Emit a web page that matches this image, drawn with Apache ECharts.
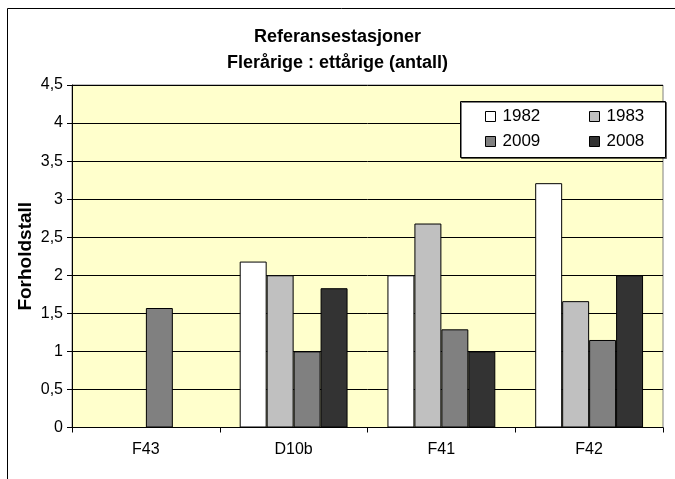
<!DOCTYPE html>
<html>
<head>
<meta charset="utf-8">
<script src="https://cdn.jsdelivr.net/npm/echarts@6/dist/echarts.min.js"></script>
<style>
  html, body { margin: 0; padding: 0; background: #ffffff; }
  #chart { width: 675px; height: 479px; }
</style>
</head>
<body>
<div id="chart"></div>
<script>
// Stations on the x axis
const categories = ['F43', 'D10b', 'F41', 'F42'];
// Ratio perennial : annual (count), per year; '-' = no sample
const values1982 = ['-', 2.18, 2.0, 3.21];
const values1983 = ['-', 2.0, 2.68, 1.66];
const values2009 = [1.57, 1.0, 1.29, 1.15];
const values2008 = ['-', 1.83, 1.0, 2.0];
// Y axis range
const yMin = 0, yMax = 4.5, yStep = 0.5;

const font = '"Liberation Sans", Arial, sans-serif';

function barSeries(name, data, color) {
  return {
    name: name,
    type: 'bar',
    data: data,
    barGap: '0%',
    barCategoryGap: '27%',
    itemStyle: { color: color, borderColor: '#000000', borderWidth: 1 },
    emphasis: { disabled: true }
  };
}

const legendBase = {
  orient: 'vertical',
  top: 103,
  itemWidth: 10,
  itemHeight: 10,
  itemGap: 8,
  icon: 'rect',
  z: 20,
  textStyle: { fontFamily: font, fontSize: 17, color: '#000000', padding: [0, 0, 0, 2] },
  itemStyle: { borderColor: '#000000', borderWidth: 1 }
};

const chart = echarts.init(document.getElementById('chart'), null, { renderer: 'canvas' });
chart.setOption({
  animation: false,
  backgroundColor: '#ffffff',
  title: {
    text: 'Referansestasjoner\nFlerårige : ettårige (antall)',
    left: 'center',
    top: 19,
    textStyle: { fontFamily: font, fontSize: 18, fontWeight: 'bold', color: '#000000', lineHeight: 26 }
  },
  graphic: [
    // outer chart frame (left and top edges visible)
    { type: 'rect', shape: { x: 7.5, y: 8.5, width: 700, height: 500 }, style: { fill: null, stroke: '#000000', lineWidth: 1 }, z: 0, silent: true },
    // legend box
    { type: 'rect', shape: { x: 460.5, y: 101.5, width: 205, height: 56 },
      style: { fill: '#ffffff', stroke: '#000000', lineWidth: 1, shadowColor: 'rgba(0,0,0,0.5)', shadowOffsetX: 1, shadowOffsetY: 1, shadowBlur: 0 },
      z: 10, silent: true }
  ],
  legend: [
    Object.assign({}, legendBase, { left: 480, data: ['1982', '2009'] }),
    Object.assign({}, legendBase, { left: 584, data: ['1983', '2008'] })
  ],
  grid: {
    left: 72, right: 12, top: 85, bottom: 51.5,
    show: true,
    backgroundColor: '#FFFFCC',
    borderColor: '#808080',
    borderWidth: 1
  },
  xAxis: {
    type: 'category',
    data: categories,
    axisLine: { lineStyle: { color: '#000000', width: 1 } },
    axisTick: { show: true, alignWithLabel: false, length: 5, lineStyle: { color: '#000000' } },
    axisLabel: { fontFamily: font, fontSize: 16, color: '#000000', margin: 14 }
  },
  yAxis: {
    type: 'value',
    min: yMin, max: yMax, interval: yStep,
    name: 'Forholdstall',
    nameLocation: 'middle',
    nameRotate: 90,
    nameGap: 37,
    nameMoveOverlap: false,
    nameTextStyle: { fontFamily: font, fontSize: 19, fontWeight: 'bold', color: '#000000' },
    axisLine: { show: true, lineStyle: { color: '#000000', width: 1 } },
    axisTick: { show: true, length: 5, lineStyle: { color: '#000000' } },
    splitLine: { show: true, lineStyle: { color: '#000000', width: 1 } },
    axisLabel: {
      fontFamily: font, fontSize: 16, color: '#000000', margin: 9,
      formatter: v => String(v).replace('.', ',')
    }
  },
  series: [
    barSeries('1982', values1982, '#FFFFFF'),
    barSeries('1983', values1983, '#C0C0C0'),
    barSeries('2009', values2009, '#808080'),
    barSeries('2008', values2008, '#333333')
  ]
});
</script>
</body>
</html>
